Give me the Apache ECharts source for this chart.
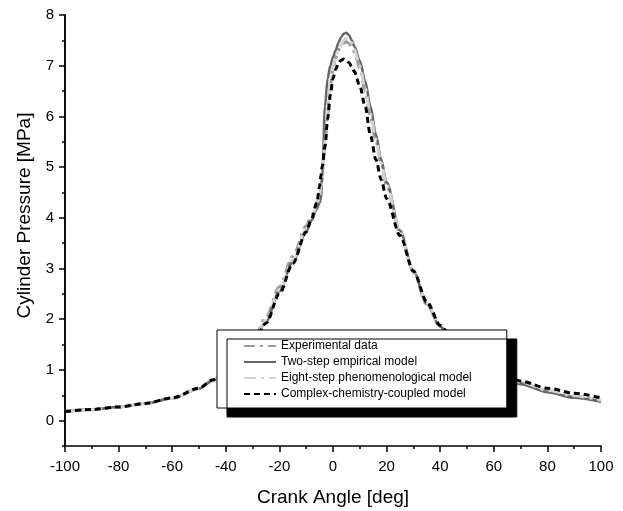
<!DOCTYPE html>
<html>
<head>
<meta charset="utf-8">
<script src="https://cdn.jsdelivr.net/npm/echarts@6/dist/echarts.min.js"></script>
<style>
  html, body { margin: 0; padding: 0; background: #fff; }
  #myChart { width: 623px; height: 511px; }
</style>
</head>
<body>
<div id="myChart"></div>
<script>
// crank angle grid (deg), shared by all series
const angles = [-100, -90, -80, -70, -60, -50, -45, -40, -35, -30, -25, -20, -15, -10, -8, -6, -5, -4.5, -4, -3, -2, -1, 0, 1, 2, 3, 4, 5, 6, 7, 8, 10, 12, 14, 16, 18, 20, 25, 30, 35, 40, 45, 50, 55, 60, 65, 70, 80, 90, 100]

// cylinder pressure (MPa)
const experimental = [0.18, 0.22, 0.27, 0.34, 0.44, 0.63, 0.79, 1.0, 1.27, 1.56, 2.04, 2.64, 3.24, 3.84, 4.05, 4.3, 4.45, 4.6, 4.85, 5.45, 6.05, 6.6, 6.95, 7.15, 7.3, 7.4, 7.45, 7.47, 7.44, 7.37, 7.27, 6.95, 6.5, 6.0, 5.52, 5.06, 4.63, 3.7, 2.93, 2.3, 1.85, 1.55, 1.3, 1.1, 0.96, 0.84, 0.74, 0.58, 0.47, 0.38]
const twoStep = [0.18, 0.22, 0.27, 0.34, 0.44, 0.63, 0.78, 1.0, 1.25, 1.52, 1.95, 2.55, 3.13, 3.72, 3.95, 4.18, 4.3, 4.36, 4.83, 6.2, 6.75, 7.0, 7.17, 7.3, 7.45, 7.56, 7.63, 7.65, 7.6, 7.5, 7.38, 7.1, 6.7, 6.2, 5.65, 5.15, 4.7, 3.75, 2.95, 2.3, 1.85, 1.55, 1.3, 1.1, 0.95, 0.82, 0.72, 0.56, 0.45, 0.37]
const eightStep = [0.18, 0.22, 0.27, 0.34, 0.44, 0.63, 0.78, 1.0, 1.26, 1.54, 1.98, 2.58, 3.17, 3.78, 4.0, 4.25, 4.45, 4.6, 4.85, 5.5, 6.2, 6.7, 7.0, 7.18, 7.3, 7.4, 7.5, 7.54, 7.53, 7.45, 7.32, 7.0, 6.55, 6.05, 5.55, 5.08, 4.65, 3.72, 2.95, 2.32, 1.87, 1.56, 1.32, 1.12, 0.98, 0.86, 0.76, 0.6, 0.49, 0.4]
const complexChem = [0.18, 0.22, 0.27, 0.34, 0.45, 0.64, 0.8, 1.0, 1.25, 1.5, 1.92, 2.5, 3.1, 3.72, 3.98, 4.3, 4.62, 4.84, 5.02, 5.4, 5.95, 6.42, 6.75, 6.93, 7.05, 7.11, 7.13, 7.11, 7.06, 6.98, 6.88, 6.6, 6.2, 5.62, 5.15, 4.75, 4.38, 3.65, 2.95, 2.35, 1.88, 1.58, 1.35, 1.17, 1.02, 0.88, 0.78, 0.64, 0.54, 0.45]

const seriesNames = ['Experimental data', 'Two-step empirical model', 'Eight-step phenomenological model', 'Complex-chemistry-coupled model']

// tick positions
const xTicks = [-100, -80, -60, -40, -20, 0, 20, 40, 60, 80, 100]
const yTicks = [0, 1, 2, 3, 4, 5, 6, 7, 8]
const yMinorTicks = [-0.5, 0.5, 1.5, 2.5, 3.5, 4.5, 5.5, 6.5, 7.5]

const font = '"Liberation Sans", Arial, sans-serif'

function pairs(ys) {
  return angles.map((a, i) => [a, ys[i]])
}

let myChart = echarts.init(document.getElementById('myChart'))

let option = {
  animation: false,
  backgroundColor: '#fff',
  grid: {
    left: 65,
    right: 22,
    top: 15,
    bottom: 65,
    outerBoundsMode: 'none',
  },
  legend: {
    orient: 'vertical',
    left: 217,
    top: 330,
    padding: [10, 35, 8, 26],
    itemGap: 4,
    itemWidth: 32,
    itemHeight: 12,
    backgroundColor: '#fff',
    borderColor: '#000',
    borderWidth: 1,
    shadowColor: '#000',
    shadowBlur: 0,
    shadowOffsetX: 10,
    shadowOffsetY: 9,
    itemStyle: { opacity: 0 },
    textStyle: {
      color: '#000',
      fontSize: 12,
      fontFamily: font,
    },
    data: seriesNames,
  },
  /*x坐标轴*/
  xAxis: {
    type: 'value',
    min: -100,
    max: 100,
    interval: 20,
    name: 'Crank Angle [deg]',
    nameLocation: 'middle',
    nameGap: 42,
    nameTextStyle: { color: '#000', fontSize: 19, fontFamily: font },
    axisLine: { onZero: false, lineStyle: { color: '#000', width: 1.5 } },
    axisTick: { length: 6, lineStyle: { color: '#000', width: 1.5 } },
    minorTick: { show: true, splitNumber: 2, length: 3, lineStyle: { color: '#000', width: 1.5 } },
    axisLabel: {
      color: '#000',
      fontSize: 15,
      fontFamily: font,
      margin: 13,
      customValues: xTicks,
    },
    splitLine: { show: false },
  },
  /*y坐标轴*/
  yAxis: [
    {
      type: 'value',
      min: -0.5,
      max: 8,
      interval: 0.5,
      name: 'Cylinder Pressure [MPa]',
      nameLocation: 'middle',
      nameGap: 31,
      nameTextStyle: { color: '#000', fontSize: 19, fontFamily: font, padding: [0, 0, 0, 30] },
      axisLine: { show: true, onZero: false, lineStyle: { color: '#000', width: 1.5 } },
      axisTick: { length: 6, customValues: yTicks, lineStyle: { color: '#000', width: 1.5 } },
      axisLabel: {
        color: '#000',
        fontSize: 15,
        fontFamily: font,
        margin: 11,
        customValues: yTicks,
      },
      splitLine: { show: false },
    },
    {
      // minor ticks only
      type: 'value',
      position: 'left',
      offset: 0,
      min: -0.5,
      max: 8,
      interval: 0.5,
      axisLine: { show: true, onZero: false, lineStyle: { color: '#000', width: 1.5 } },
      axisTick: { show: true, length: 3, customValues: yMinorTicks, lineStyle: { color: '#000', width: 1.5 } },
      axisLabel: { show: false },
      splitLine: { show: false },
    },
  ],
  series: [
    {
      name: seriesNames[0],
      type: 'line',
      data: pairs(experimental),
      symbol: 'none',
      smooth: 0.3,
      smoothMonotone: 'x',
      color: '#9a9a9a',
      lineStyle: { color: '#9a9a9a', width: 3, type: [11, 5, 3, 5] },
    },
    {
      name: seriesNames[1],
      type: 'line',
      data: pairs(twoStep),
      symbol: 'none',
      smooth: 0.3,
      smoothMonotone: 'x',
      color: '#666',
      lineStyle: { color: '#666', width: 2.5 },
    },
    {
      name: seriesNames[2],
      type: 'line',
      data: pairs(eightStep),
      symbol: 'none',
      smooth: 0.3,
      smoothMonotone: 'x',
      color: '#d2d2d2',
      lineStyle: { color: '#d2d2d2', width: 3, type: [12, 5, 3, 5] },
    },
    {
      name: seriesNames[3],
      type: 'line',
      data: pairs(complexChem),
      symbol: 'none',
      smooth: 0.3,
      smoothMonotone: 'x',
      color: '#000',
      lineStyle: { color: '#000', width: 3, type: [6, 4] },
    },
  ],
}

myChart.setOption(option, true)
</script>
</body>
</html>
